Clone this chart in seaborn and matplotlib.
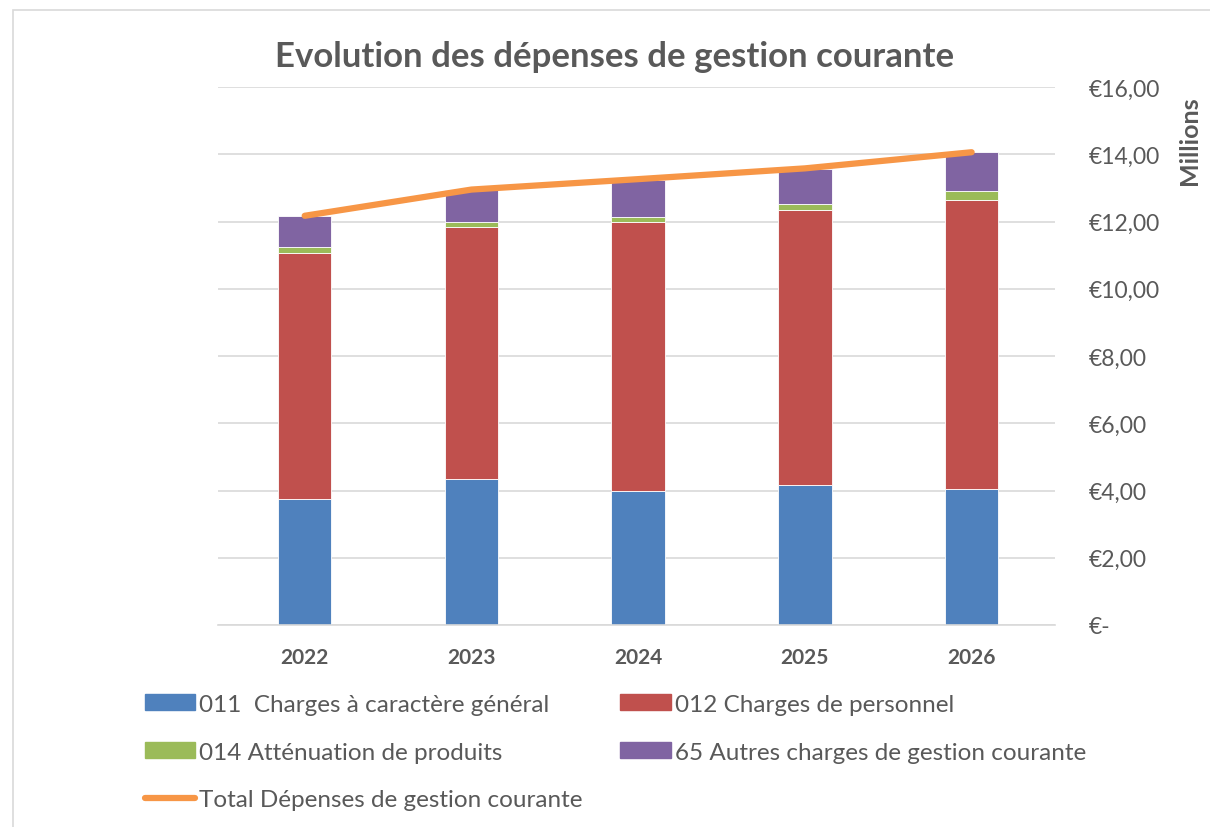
import matplotlib.pyplot as plt
import matplotlib.patches as mpatches
import matplotlib.lines as mlines
import numpy as np
import pandas as pd
import seaborn as sns

# data (millions EUR)
years = ["2022", "2023", "2024", "2025", "2026"]
charges_generales = [3.74, 4.34, 3.99, 4.15, 4.04]
charges_personnel = [7.33, 7.51, 7.99, 8.20, 8.61]
attenuation = [0.16, 0.15, 0.15, 0.18, 0.25]
autres_charges = [0.94, 0.95, 1.11, 1.04, 1.17]
total = [12.17, 12.95, 13.26, 13.58, 14.06]

labels = ["011  Charges à caractère général", "012 Charges de personnel",
          "014 Atténuation de produits", "65 Autres charges de gestion courante"]
colors = ["#4f81bd", "#c0504d", "#9bbb59", "#8064a2"]
line_color = "#f79646"
grey = "#595959"

sns.set_style("white")
plt.rcParams['font.family'] = ['Lato', 'DejaVu Sans']

fig = plt.figure(figsize=(12.1, 8.28), dpi=100)
ax = fig.add_axes([218 / 1210, 1 - 626 / 828, (1055 - 218) / 1210, (626 - 88) / 828])

series = [charges_generales, charges_personnel, attenuation, autres_charges]
bottom = np.zeros(len(years))
for vals, col in zip(series, colors):
    sns.barplot(x=years, y=vals, bottom=bottom, color=col, width=0.32,
                saturation=1, edgecolor="white", linewidth=0.6, ax=ax)
    bottom = bottom + np.array(vals)

sns.lineplot(x=years, y=total, color=line_color, linewidth=4.5, ax=ax,
             solid_capstyle="round", sort=False)

ax.set_xlim(-0.52, 4.5)
ax.set_ylim(0, 16)
ax.set_yticks(np.arange(0, 17, 2))
ax.set_yticklabels(["€-"] + [f"€{v},00" for v in range(2, 17, 2)])
ax.yaxis.tick_right()
ax.yaxis.set_label_position("right")
ax.set_ylabel("Millions", fontsize=18, fontweight="bold", color=grey)
ax.yaxis.set_label_coords((1178 - 218) / (1055 - 218), (626 - 141) / (626 - 88))
ax.grid(axis="y", color="#d9d9d9", linewidth=1.2)
ax.set_axisbelow(True)
for s in ["top", "left", "right"]:
    ax.spines[s].set_visible(False)
ax.spines["bottom"].set_color("#d9d9d9")
ax.spines["bottom"].set_linewidth(1.2)
ax.tick_params(axis="y", length=0, pad=24, labelsize=16.5, labelcolor=grey)
ax.tick_params(axis="x", length=0, pad=16, labelsize=15, labelcolor=grey)
for t in ax.get_xticklabels():
    t.set_fontweight("bold")
ax.set_xlabel("")

fig.text(615 / 1210, 1 - 57 / 828, "Evolution des dépenses de gestion courante",
         ha="center", va="center", fontsize=25, fontweight="bold", color=grey)

# legend
handles = [mpatches.Patch(color=c, label=l) for c, l in zip(colors, labels)]
line_h = mlines.Line2D([], [], color=line_color, linewidth=4.5, label="Total Dépenses de gestion courante")
order = [handles[0], handles[2], line_h, handles[1], handles[3]]
fig.legend(handles=order, labels=[h.get_label() for h in order], ncol=2,
           loc="upper left", bbox_to_anchor=(123 / 1210, 1 - 673 / 828),
           frameon=False, fontsize=17.5, handlelength=2.06, handleheight=0.65,
           handletextpad=0.17, columnspacing=1.56, labelspacing=1.1,
           labelcolor=grey)

# chart frame
fig.patches.append(mpatches.Rectangle((13 / 1210, -0.1), 1.2, 1.1 - 11 / 828,
                                      transform=fig.transFigure, fill=False,
                                      edgecolor="#d9d9d9", linewidth=1.2))

fig.savefig("out.png", dpi=100)
